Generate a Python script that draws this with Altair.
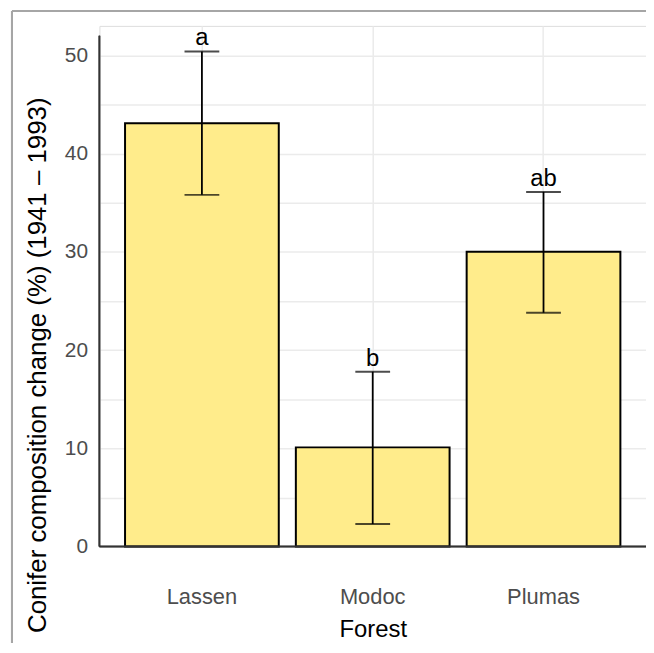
import altair as alt
import pandas as pd

forest = ["Lassen", "Modoc", "Plumas"]
mean_change = [43.1, 10.1, 30.0]
upper = [50.4, 17.8, 36.1]
lower = [35.8, 2.3, 23.8]
letters = ["a", "b", "ab"]
y_ticks = [0, 5, 10, 15, 20, 25, 30, 35, 40, 45, 50]

df = pd.DataFrame({"Forest": forest, "mean": mean_change, "upper": upper,
                   "lower": lower, "letter": letters})

FONT = "Liberation Sans"
W, H = 550, 524

xscale = alt.Scale(domain=forest, paddingInner=0.1, paddingOuter=0.15)
yscale = alt.Scale(domain=[0, 53], nice=False, zero=True)

xaxis = alt.Axis(title="Forest", labelAngle=0, labelFontSize=22, labelColor="#4d4d4d",
                 labelFont=FONT, labelPadding=40, ticks=False, domain=False,
                 grid=True, gridColor="#ebebeb", gridWidth=1.5, bandPosition=0.5,
                 titleFont=FONT, titleFontSize=24, titleFontWeight="normal",
                 titleColor="#000000", titleBaseline="alphabetic", titleY=90)
yaxis = alt.Axis(title="Conifer composition change (%) (1941 \u2013 1993)",
                 values=y_ticks, labelExpr="datum.value % 10 == 0 ? datum.label : ''",
                 labelFontSize=21, labelColor="#4d4d4d", labelFont=FONT, labelPadding=12,
                 ticks=False, domain=False, grid=True, gridColor="#ebebeb", gridWidth=1.5,
                 titleFont=FONT, titleFontSize=26, titleFontWeight="normal",
                 titleColor="#000000", titleX=-62, titleY=341, titleAngle=-90,
                 titleBaseline="middle", titleAlign="center")

base = alt.Chart(df)

bars = base.mark_bar(fill="#FFEC8B", stroke="#000000", strokeWidth=2).encode(
    x=alt.X("Forest:N", scale=xscale, axis=xaxis, sort=forest),
    y=alt.Y("mean:Q", scale=yscale, axis=yaxis),
)

err = base.mark_rule(color="#000000", strokeWidth=1.8).encode(
    x=alt.X("Forest:N", sort=forest), y="lower:Q", y2="upper:Q")

cap_hi = base.mark_tick(color="#000000", size=35, thickness=2).encode(
    x=alt.X("Forest:N", sort=forest), y="upper:Q")
cap_lo = base.mark_tick(color="#000000", size=35, thickness=2).encode(
    x=alt.X("Forest:N", sort=forest), y="lower:Q")

labels = base.mark_text(font=FONT, fontSize=24, color="#000000", baseline="alphabetic",
                        dy=-6).encode(x=alt.X("Forest:N", sort=forest), y="upper:Q",
                                      text="letter:N")

y_line = alt.Chart(df).mark_rule(color="#333333", strokeWidth=1.5).encode(
    x=alt.value(0), y=alt.datum(0), y2=alt.datum(52))
x_line = alt.Chart(df).mark_rule(color="#333333", strokeWidth=1.5).encode(
    x=alt.value(0), x2=alt.value(W), y=alt.datum(0))

top_border = alt.Chart(df).mark_rule(color="#a6a6a6", strokeWidth=2).encode(
    x=alt.value(-88), x2=alt.value(W + 10), y=alt.value(-15))
left_border = alt.Chart(df).mark_rule(color="#a6a6a6", strokeWidth=2).encode(
    x=alt.value(-88), y=alt.value(-15), y2=alt.value(H + 120))

chart = alt.layer(bars, err, cap_hi, cap_lo, labels, x_line, y_line, top_border,
                  left_border).properties(
    width=W, height=H,
    autosize=alt.AutoSizeParams(type="none"),
    padding={"left": 92, "top": 16, "right": 0, "bottom": 95},
).configure_view(stroke=None).configure(background="#ffffff")

chart.save("out.html", embed_options={"renderer": "svg", "actions": False})
